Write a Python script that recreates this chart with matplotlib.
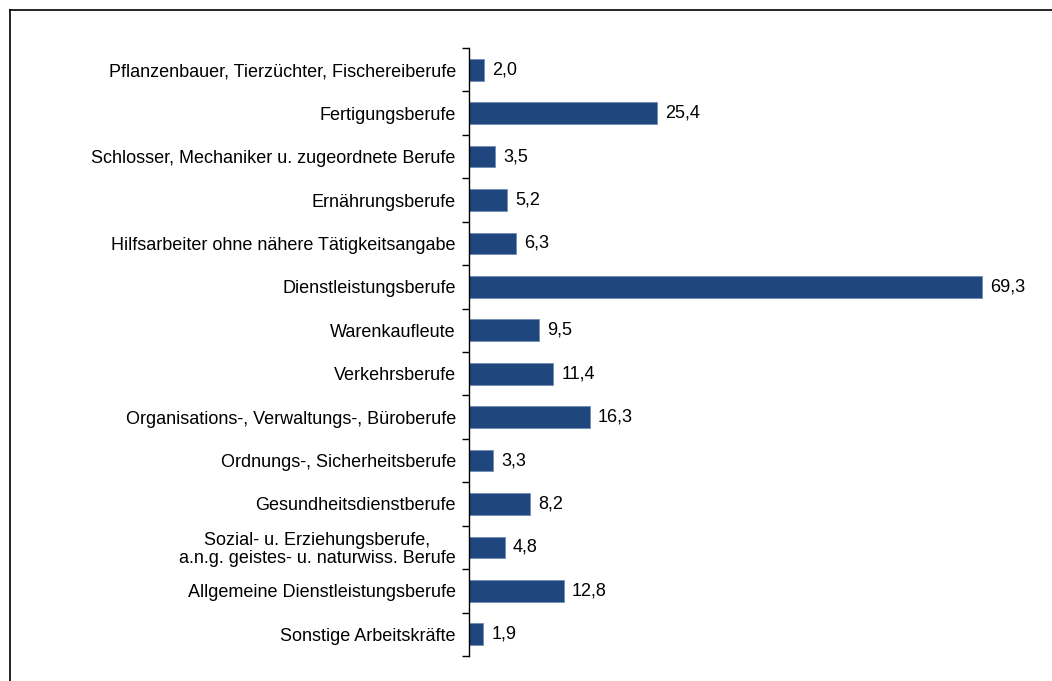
import matplotlib
matplotlib.use("Agg")
import matplotlib.pyplot as plt
from matplotlib.lines import Line2D
import numpy as np

categories = [
    "Pflanzenbauer, Tierzüchter, Fischereiberufe",
    "Fertigungsberufe",
    "Schlosser, Mechaniker u. zugeordnete Berufe",
    "Ernährungsberufe",
    "Hilfsarbeiter ohne nähere Tätigkeitsangabe",
    "Dienstleistungsberufe",
    "Warenkaufleute",
    "Verkehrsberufe",
    "Organisations-, Verwaltungs-, Büroberufe",
    "Ordnungs-, Sicherheitsberufe",
    "Gesundheitsdienstberufe",
    "Sozial- u. Erziehungsberufe,\na.n.g. geistes- u. naturwiss. Berufe",
    "Allgemeine Dienstleistungsberufe",
    "Sonstige Arbeitskräfte",
]
values = [2.0, 25.4, 3.5, 5.2, 6.3, 69.3, 9.5, 11.4, 16.3, 3.3, 8.2, 4.8, 12.8, 1.9]

plt.rcParams['font.family'] = ['Liberation Sans', 'DejaVu Sans']
fs = 13

fig = plt.figure(figsize=(10.52, 6.81), dpi=100)
W, H = 1052, 681
ax = fig.add_axes([469 / W, 1 - 656 / H, (1040 - 469) / W, (656 - 48) / H])

n = len(categories)
y = np.arange(n)
ax.barh(y, values, height=0.5, color='#1F477D', edgecolor='#6F8DB5', linewidth=0.6)
ax.set_ylim(n - 0.5, -0.5)
ax.set_xlim(0, 571 / 7.40)

for yi, v in zip(y, values):
    ax.text(v + 1.1, yi, f"{v:.1f}".replace('.', ','), va='center', ha='left', fontsize=fs)

ax.set_yticks(y)
ax.set_yticklabels(categories, fontsize=fs, ha='right', multialignment='center', linespacing=1.05)
ax.set_yticks(np.arange(n + 1) - 0.5, minor=True)
ax.tick_params(axis='y', which='major', length=0, pad=9.5)
ax.tick_params(axis='y', which='minor', length=5, width=1, direction='out')

ax.set_xticks([])
for s in ['top', 'right', 'bottom']:
    ax.spines[s].set_visible(False)
ax.spines['left'].set_linewidth(1)

# outer frame (top and left edges visible)
fig.add_artist(Line2D([10 / W, 1], [1 - 10 / H, 1 - 10 / H], color='black', lw=1.2, transform=fig.transFigure))
fig.add_artist(Line2D([10 / W, 10 / W], [0, 1 - 10 / H], color='black', lw=1.2, transform=fig.transFigure))

fig.savefig("out.png", dpi=100)
